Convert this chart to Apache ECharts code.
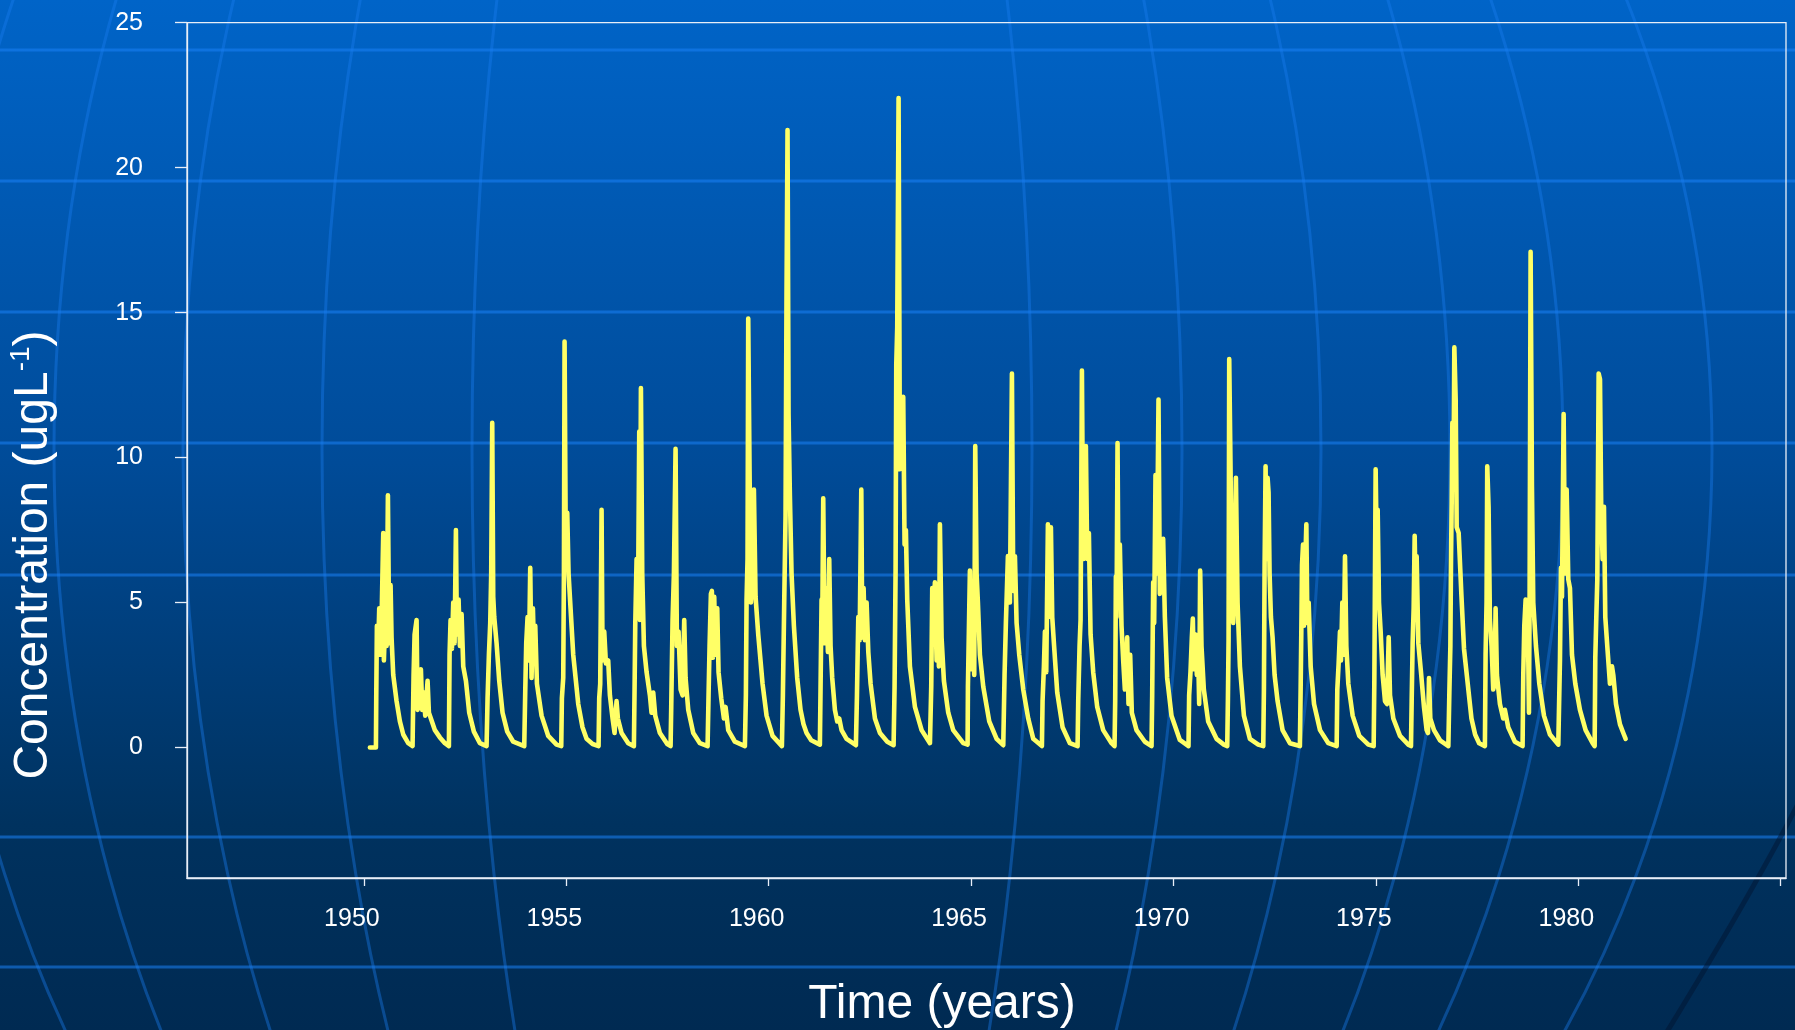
<!DOCTYPE html>
<html>
<head>
<meta charset="utf-8">
<script src="https://cdn.jsdelivr.net/npm/echarts@6/dist/echarts.min.js"></script>
<style>
html,body{margin:0;padding:0;background:#003a78;overflow:hidden;}
#chart{width:1795px;height:1030px;}
</style>
</head>
<body>
<div id="chart"></div>
<script>
// ---- tick labels / titles ----
const xTickYears = [1950, 1955, 1960, 1965, 1970, 1975, 1980, 1985];
const xLabelYears = [1950, 1955, 1960, 1965, 1970, 1975, 1980];
const yTickValues = [0, 5, 10, 15, 20, 25];
const xAxisTitle = 'Time (years)';
const yAxisTitleParts = ['Concentration (ugL', '-1', ')'];

// ---- concentration series: [decimal year, ugL-1] ----
const conc1950s = [
  [1950.148,0],[1950.297,0],[1950.305,1.7],[1950.321,4.2],[1950.354,3.5],[1950.379,4.8],[1950.412,3.2],[1950.445,5.0],[1950.478,7.4],[1950.494,3.0],[1950.527,4.5],[1950.560,3.5],[1950.593,8.7],[1950.626,3.6],[1950.659,5.6],[1950.683,3.8],[1950.725,2.5],[1950.807,1.6],[1950.889,0.9],[1950.972,0.45],[1951.095,0.15],[1951.202,0.05],
  [1951.219,0.05],[1951.227,2.5],[1951.252,3.9],[1951.301,4.4],[1951.326,1.3],[1951.367,2.0],[1951.408,2.7],[1951.441,1.3],[1951.482,1.9],[1951.515,1.1],[1951.573,2.3],[1951.606,1.2],[1951.655,1.0],[1951.754,0.6],[1951.877,0.35],[1952.001,0.15],[1952.100,0.05],
  [1952.108,0.05],[1952.116,3.2],[1952.141,4.4],[1952.174,3.4],[1952.207,5.0],[1952.240,3.6],[1952.273,7.5],[1952.297,3.9],[1952.339,5.1],[1952.372,3.5],[1952.413,4.6],[1952.454,2.8],[1952.520,2.3],[1952.602,1.2],[1952.717,0.55],[1952.866,0.15],[1953.030,0.05],
  [1953.047,0.05],[1953.055,1.7],[1953.088,3.2],[1953.121,4.3],[1953.145,6.0],[1953.170,11.2],[1953.195,5.2],[1953.220,4.5],[1953.277,3.6],[1953.343,2.3],[1953.425,1.2],[1953.541,0.55],[1953.689,0.2],[1953.961,0.05],
  [1953.977,0.05],[1953.985,1.9],[1954.010,3.6],[1954.043,4.5],[1954.076,3.0],[1954.109,6.2],[1954.142,2.4],[1954.175,4.8],[1954.208,3.0],[1954.233,4.2],[1954.274,2.2],[1954.389,1.1],[1954.554,0.4],[1954.760,0.1],[1954.875,0.05],
  [1954.883,0.05],[1954.891,1.7],[1954.924,2.4],[1954.941,6.0],[1954.957,14.0],[1954.990,6.2],[1955.023,8.1],[1955.056,6.0],[1955.105,4.8],[1955.171,3.2],[1955.295,1.5],[1955.400,0.7],[1955.500,0.3],[1955.650,0.12],[1955.797,0.05],
  [1955.805,0.05],[1955.813,1.7],[1955.838,2.2],[1955.854,5.0],[1955.871,8.2],[1955.896,3.0],[1955.937,4.0],[1955.978,2.9],[1956.035,3.0],[1956.077,1.8],[1956.143,1.0],[1956.192,0.5],[1956.241,1.6],[1956.274,1.0],[1956.365,0.5],[1956.530,0.15],[1956.670,0.05],
  [1956.678,0.05],[1956.686,2.0],[1956.703,4.2],[1956.736,6.5],[1956.769,4.5],[1956.802,10.9],[1956.818,4.4],[1956.843,12.4],[1956.876,6.0],[1956.917,3.5],[1956.983,2.6],[1957.065,1.8],[1957.106,1.2],[1957.147,1.9],[1957.197,1.1],[1957.312,0.5],[1957.493,0.12],[1957.576,0.05],
  [1957.584,0.05],[1957.592,1.4],[1957.625,4.4],[1957.658,6.0],[1957.699,10.3],[1957.732,3.5],[1957.773,4.0],[1957.823,2.0],[1957.872,1.8],[1957.913,4.4],[1957.946,2.4],[1958.012,1.3],[1958.136,0.5],[1958.300,0.15],[1958.490,0.05],
  [1958.506,0.05],[1958.514,1.8],[1958.539,3.5],[1958.572,5.3],[1958.596,5.4],[1958.621,3.1],[1958.654,5.2],[1958.687,3.2],[1958.728,4.8],[1958.761,2.6],[1958.827,1.7],[1958.893,1.0],[1958.934,1.4],[1959.000,0.6],[1959.165,0.2],[1959.412,0.05],
  [1959.428,0.05],[1959.436,1.8],[1959.453,5.1],[1959.477,6.5],[1959.494,14.8],[1959.527,9.5],[1959.560,5.0],[1959.601,6.0],[1959.634,8.9],[1959.675,5.2],[1959.741,3.9],[1959.848,2.2],[1959.947,1.1],[1960.095,0.4],[1960.326,0.05]
];
const conc1960s = [
  [1960.342,0.05],[1960.350,1.8],[1960.383,5.0],[1960.416,8.0],[1960.440,15.6],[1960.465,21.3],[1960.490,11.5],[1960.523,8.7],[1960.564,6.0],[1960.622,4.2],[1960.704,2.4],[1960.786,1.3],[1960.860,0.8],[1960.935,0.5],[1961.050,0.25],[1961.264,0.1],
  [1961.281,2.1],[1961.306,5.1],[1961.322,4.0],[1961.347,8.6],[1961.380,3.6],[1961.421,5.5],[1961.462,3.3],[1961.495,6.5],[1961.528,3.5],[1961.569,2.4],[1961.635,1.3],[1961.693,0.9],[1961.742,1.0],[1961.800,0.6],[1961.923,0.3],[1962.154,0.08],
  [1962.171,0.08],[1962.180,1.8],[1962.213,4.5],[1962.246,3.7],[1962.287,8.9],[1962.311,3.8],[1962.344,5.5],[1962.377,3.7],[1962.418,5.0],[1962.460,3.3],[1962.517,2.2],[1962.624,1.0],[1962.748,0.5],[1962.929,0.2],[1963.085,0.08],
  [1963.101,0.08],[1963.109,2.1],[1963.134,6.1],[1963.151,13.2],[1963.175,14.5],[1963.208,22.4],[1963.241,9.6],[1963.282,11.0],[1963.323,12.1],[1963.356,7.0],[1963.389,7.5],[1963.422,5.1],[1963.488,2.8],[1963.612,1.4],[1963.777,0.6],[1963.983,0.15],
  [1964.007,0.1],[1964.015,2.1],[1964.040,5.5],[1964.072,4.0],[1964.105,5.7],[1964.147,3.0],[1964.180,4.5],[1964.204,2.8],[1964.229,7.7],[1964.270,3.8],[1964.328,2.3],[1964.435,1.2],[1964.558,0.6],[1964.806,0.15],
  [1964.913,0.1],[1964.921,2.1],[1964.970,6.1],[1965.012,2.7],[1965.045,4.5],[1965.077,2.5],[1965.102,10.4],[1965.135,6.0],[1965.168,5.0],[1965.217,3.2],[1965.300,2.1],[1965.448,0.9],[1965.630,0.3],[1965.794,0.08],
  [1965.818,0.1],[1965.826,2.5],[1965.859,4.3],[1965.909,6.6],[1965.958,5.0],[1966.008,12.9],[1966.041,5.4],[1966.082,6.6],[1966.123,4.3],[1966.189,3.2],[1966.288,2.0],[1966.411,1.0],[1966.535,0.3],[1966.749,0.05],
  [1966.765,1.6],[1966.798,2.8],[1966.823,4.0],[1966.856,2.6],[1966.897,7.7],[1966.922,4.5],[1966.946,6.0],[1966.971,7.6],[1967.004,4.5],[1967.045,3.6],[1967.127,1.9],[1967.259,0.7],[1967.440,0.15],[1967.630,0.05],
  [1967.646,1.6],[1967.679,3.5],[1967.704,4.4],[1967.737,13.0],[1967.770,6.5],[1967.802,8.0],[1967.835,10.4],[1967.868,6.5],[1967.909,7.4],[1967.951,3.9],[1968.016,2.6],[1968.115,1.4],[1968.263,0.6],[1968.469,0.15],[1968.543,0.05],
  [1968.559,1.6],[1968.576,5.9],[1968.592,4.5],[1968.617,10.5],[1968.641,5.1],[1968.674,7.0],[1968.715,4.2],[1968.757,3.0],[1968.798,2.0],[1968.855,3.8],[1968.888,1.5],[1968.929,3.2],[1968.970,1.2],[1969.086,0.6],[1969.292,0.2],[1969.457,0.05],
  [1969.473,1.8],[1969.498,5.7],[1969.522,4.3],[1969.555,9.4],[1969.588,6.0],[1969.629,12.0],[1969.662,5.3],[1969.703,6.0],[1969.744,7.2],[1969.786,4.5],[1969.843,2.4],[1969.950,1.1],[1970.156,0.26],[1970.370,0.05]
];
const conc1970s = [
  [1970.386,1.8],[1970.419,2.6],[1970.453,3.8],[1970.477,4.45],[1970.502,2.7],[1970.543,3.9],[1970.576,2.5],[1970.609,3.2],[1970.634,1.5],[1970.658,6.1],[1970.691,3.5],[1970.749,2.0],[1970.856,0.9],[1971.062,0.3],[1971.244,0.1],[1971.327,0.05],
  [1971.343,1.6],[1971.360,3.7],[1971.376,13.4],[1971.401,10.5],[1971.434,6.5],[1971.475,4.3],[1971.508,6.0],[1971.541,9.3],[1971.582,5.0],[1971.640,2.8],[1971.739,1.1],[1971.887,0.3],[1972.093,0.1],[1972.217,0.05],
  [1972.233,2.0],[1972.250,6.3],[1972.274,9.7],[1972.299,6.5],[1972.324,9.3],[1972.348,8.8],[1972.373,6.0],[1972.406,4.5],[1972.447,3.8],[1972.497,2.5],[1972.571,1.6],[1972.694,0.6],[1972.875,0.15],[1973.122,0.05],
  [1973.141,2.1],[1973.157,4.0],[1973.174,6.3],[1973.199,7.0],[1973.223,4.2],[1973.248,6.0],[1973.281,7.7],[1973.306,4.3],[1973.339,5.0],[1973.388,2.8],[1973.471,1.5],[1973.619,0.6],[1973.825,0.15],[1974.030,0.05],
  [1974.046,2.0],[1974.079,2.9],[1974.112,4.0],[1974.137,3.0],[1974.170,5.0],[1974.203,3.2],[1974.236,6.6],[1974.269,3.5],[1974.318,2.2],[1974.425,1.1],[1974.590,0.4],[1974.813,0.1],[1974.944,0.05],
  [1974.960,2.2],[1974.977,6.0],[1974.993,9.6],[1975.018,7.0],[1975.043,8.2],[1975.076,5.0],[1975.117,4.0],[1975.166,2.5],[1975.224,1.6],[1975.273,1.5],[1975.315,3.8],[1975.348,1.8],[1975.430,1.0],[1975.595,0.4],[1975.800,0.1],[1975.866,0.05],
  [1975.883,1.6],[1975.907,3.6],[1975.932,4.8],[1975.957,7.3],[1975.981,5.2],[1976.006,6.6],[1976.047,3.6],[1976.113,2.6],[1976.187,1.4],[1976.253,0.6],[1976.286,0.5],[1976.311,2.4],[1976.344,1.0],[1976.435,0.6],[1976.583,0.25],[1976.789,0.05],
  [1976.814,1.9],[1976.839,3.5],[1976.855,6.5],[1976.872,8.5],[1976.888,11.2],[1976.913,9.0],[1976.937,13.8],[1976.970,12.0],[1976.995,7.6],[1977.044,7.4],[1977.110,5.3],[1977.176,3.4],[1977.283,2.0],[1977.360,1.0],[1977.450,0.45],[1977.550,0.15],[1977.692,0.05],
  [1977.709,3.2],[1977.733,5.0],[1977.750,9.7],[1977.783,8.3],[1977.816,4.4],[1977.857,3.5],[1977.898,2.0],[1977.931,2.2],[1977.956,4.8],[1977.989,2.5],[1978.063,1.5],[1978.145,1.0],[1978.186,1.3],[1978.268,0.7],[1978.433,0.2],[1978.623,0.05],
  [1978.640,2.5],[1978.665,4.2],[1978.698,5.1],[1978.722,4.0],[1978.747,5.0],[1978.780,1.2],[1978.796,5.0],[1978.821,17.1],[1978.854,9.0],[1978.887,5.0],[1978.953,3.5],[1979.036,2.2],[1979.151,1.1],[1979.299,0.45],[1979.505,0.1],[1979.530,0.05],
  [1979.546,3.0],[1979.571,6.2],[1979.596,5.2],[1979.637,11.5],[1979.670,6.0],[1979.711,8.9],[1979.752,5.8],[1979.793,5.5],[1979.843,3.2],[1979.925,2.2],[1980.040,1.3],[1980.180,0.6],[1980.353,0.15],[1980.403,0.05]
];
const conc1980s = [
  [1980.419,3.1],[1980.444,4.5],[1980.469,5.8],[1980.502,12.9],[1980.535,12.7],[1980.567,8.0],[1980.600,6.5],[1980.633,8.3],[1980.666,4.5],[1980.715,3.5],[1980.781,2.2],[1980.831,2.8],[1980.864,2.5],[1980.930,1.5],[1981.029,0.8],[1981.111,0.5],[1981.169,0.3]
];

const concentration = conc1950s.concat(conc1960s, conc1970s, conc1980s);

// ---- styling ----
const FONT = '"Liberation Sans", Arial, Helvetica, sans-serif';
const W = 1795, H = 1030;
const frameColor = '#e8eef8';

// background decoration (slide template): gradient, latitude lines, meridians
const decor = [];
decor.push({
  type: 'rect', silent: true, z: -100,
  shape: { x: 0, y: 0, width: W, height: H },
  style: { fill: { type: 'linear', x: 0, y: 0, x2: 0, y2: 1, colorStops: [
    { offset: 0, color: '#0064c8' }, { offset: 0.45, color: '#004b98' },
    { offset: 0.8, color: '#00325f' }, { offset: 1, color: '#002a52' } ] } }
});
[50, 181, 312, 443, 575, 837, 967].forEach(function (yy) {
  decor.push({ type: 'line', silent: true, z: -90,
    shape: { x1: 0, y1: yy, x2: W, y2: yy },
    style: { stroke: 'rgba(25,130,245,0.55)', lineWidth: 3 } });
});
[280, 430, 569, 698, 811, 960].forEach(function (rx) {
  decor.push({ type: 'ellipse', silent: true, z: -90,
    shape: { cx: 752, cy: 450, rx: rx, ry: 1090 },
    style: { fill: 'none', stroke: 'rgba(25,125,240,0.40)', lineWidth: 3 } });
});
decor.push({ type: 'bezierCurve', silent: true, z: -90,
  shape: { x1: 1805, y1: 790, cpx1: 1760, cpy1: 880, x2: 1665, y2: 1035 },
  style: { fill: 'none', stroke: 'rgba(0,18,45,0.45)', lineWidth: 5 } });

const titles = [
  { type: 'text', z: 50, x: 942, y: 1005,
    style: { text: xAxisTitle, fill: '#ffffff', fontSize: 48, fontFamily: FONT, align: 'center', verticalAlign: 'middle' } },
  { type: 'text', z: 50, x: 34, y: 555, rotation: Math.PI / 2,
    style: {
      text: '{a|' + yAxisTitleParts[0] + '}{s|' + yAxisTitleParts[1] + '}{a|' + yAxisTitleParts[2] + '}',
      align: 'center', verticalAlign: 'middle',
      rich: {
        a: { fontSize: 48, fontFamily: FONT, fill: '#ffffff', lineHeight: 54, verticalAlign: 'middle' },
        s: { fontSize: 28, fontFamily: FONT, fill: '#ffffff', lineHeight: 30, verticalAlign: 'top' }
      }
    } }
];

const chart = echarts.init(document.getElementById('chart'), null, { renderer: 'canvas', width: W, height: H });
chart.setOption({
  animation: false,
  graphic: { elements: decor.concat(titles) },
  grid: { left: 187, top: 22.7, right: 9, bottom: 152, show: true, borderColor: frameColor, borderWidth: 1.3, backgroundColor: 'transparent' },
  xAxis: {
    type: 'value', min: 1945.63, max: 1985.13,
    splitLine: { show: false },
    axisLine: { show: true, onZero: false, lineStyle: { color: frameColor, width: 1.3 } },
    axisTick: { show: true, customValues: xTickYears, length: 8, lineStyle: { color: frameColor, width: 1.3 } },
    axisLabel: { customValues: xLabelYears, color: '#ffffff', fontSize: 25, fontFamily: FONT, margin: 29, padding: [0, 24, 0, 0],
      formatter: function (v) { return String(Math.round(v)); } }
  },
  yAxis: {
    type: 'value', min: -4.5, max: 25,
    splitLine: { show: false },
    axisLine: { show: true, onZero: false, lineStyle: { color: frameColor, width: 1.3 } },
    axisTick: { show: true, customValues: yTickValues, length: 12, lineStyle: { color: frameColor, width: 1.3 } },
    axisLabel: { customValues: yTickValues, color: '#ffffff', fontSize: 25, fontFamily: FONT, margin: 44, padding: [0, 0, 8, 0],
      formatter: function (v) { return String(Math.round(v)); } }
  },
  series: [{
    type: 'line', data: concentration, symbol: 'none', showSymbol: false, smooth: false,
    lineStyle: { color: '#ffff66', width: 4.6, cap: 'round', join: 'round' },
    z: 5
  }]
});
</script>
</body>
</html>
